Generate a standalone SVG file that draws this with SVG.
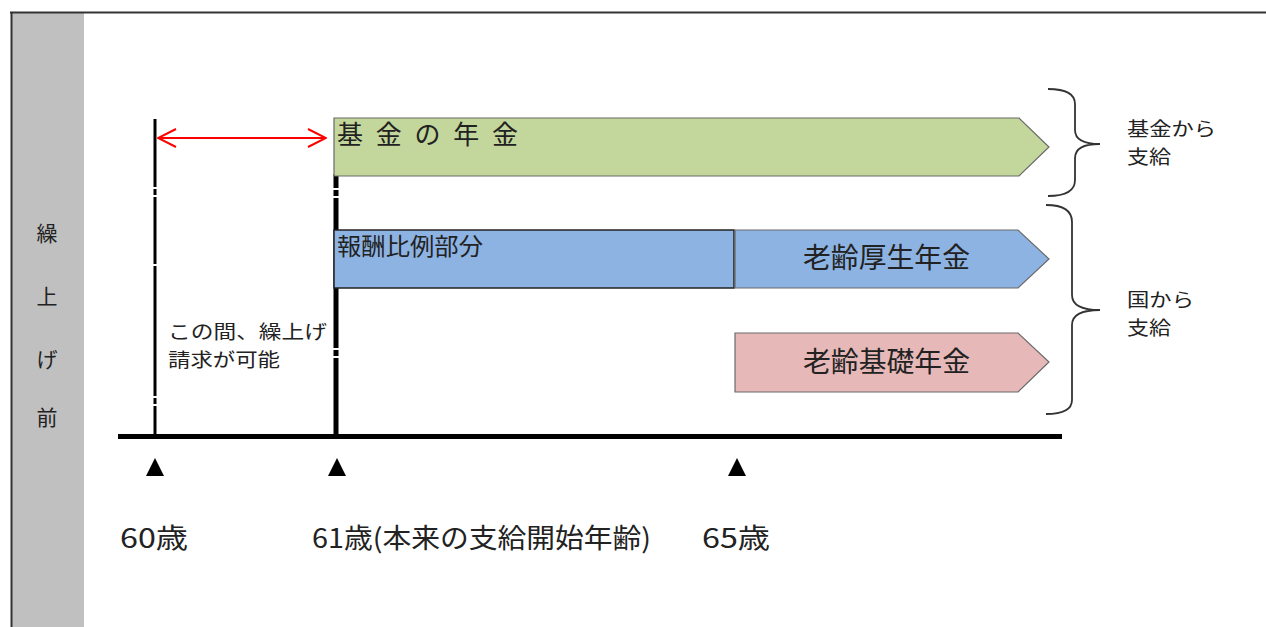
<svg xmlns="http://www.w3.org/2000/svg" width="1266" height="627" viewBox="0 0 1266 627">
<style>
.t{font-family:"Noto Sans CJK JP","Liberation Sans",sans-serif;fill:#222}
.big{font-size:26px}
.lab{font-size:28px}
.mid{font-size:21px}
.sm{font-size:19px}
.box{stroke:#6a6a6a;stroke-width:1.2}
.br{fill:none;stroke:#333;stroke-width:1.8}
</style>
<defs>
<marker id="ah" viewBox="0 0 20 20" refX="19" refY="10" markerWidth="20" markerHeight="20" markerUnits="userSpaceOnUse" orient="auto-start-reverse">
<path d="M1,1 L19,10 L1,19" fill="none" stroke="#f00" stroke-width="2"/>
</marker>
</defs>
<rect width="1266" height="627" fill="#fff"/>
<g id="frame">
<rect x="12" y="12" width="72" height="620" fill="#c0c0c0"/>
<line x1="10" y1="12.5" x2="1266" y2="12.5" stroke="#333" stroke-width="2"/>
<line x1="11.5" y1="12" x2="11.5" y2="627" stroke="#333" stroke-width="2"/>
<text class="t mid" x="47" y="241" text-anchor="middle">繰</text>
<text class="t mid" x="47" y="304" text-anchor="middle">上</text>
<text class="t mid" x="47" y="367" text-anchor="middle">げ</text>
<text class="t mid" x="47" y="425" text-anchor="middle">前</text>
</g>
<g id="connectors">
<line x1="155" y1="119" x2="155" y2="436" stroke="#000" stroke-width="3" stroke-dasharray="68,2,6,2,67,2,130,2,6,2,60"/>
<line x1="336" y1="174" x2="336" y2="436" stroke="#000" stroke-width="5" stroke-dasharray="14,2,6,2,150,2,6,2,100"/>
<line x1="158" y1="138" x2="326" y2="138" stroke="#f00" stroke-width="2" marker-start="url(#ah)" marker-end="url(#ah)"/>
<line x1="118" y1="436.5" x2="1062" y2="436.5" stroke="#000" stroke-width="5"/>
</g>
<g id="kikin">
<polygon class="box" points="334,118 1019,118 1049,147 1019,176 334,176" fill="#c3d69b"/>
<text class="t big" x="337" y="144" textLength="181" lengthAdjust="spacing">基金の年金</text>
</g>
<g id="houshu">
<rect x="334" y="230" width="400" height="58" fill="#8db3e2" stroke="#222" stroke-width="1.5"/>
<text class="t" font-size="24" x="337" y="255" textLength="146" lengthAdjust="spacingAndGlyphs">報酬比例部分</text>
</g>
<g id="kousei">
<polygon class="box" points="735,230 1018,230 1049,259 1018,288 735,288" fill="#8db3e2"/>
<text class="t lab" x="803" y="268" textLength="167" lengthAdjust="spacingAndGlyphs">老齢厚生年金</text>
</g>
<g id="kiso">
<polygon class="box" points="735,333 1018,333 1049,362 1018,392 735,392" fill="#e6b9b8"/>
<text class="t lab" x="803" y="372" textLength="167" lengthAdjust="spacingAndGlyphs">老齢基礎年金</text>
</g>
<g id="note">
<text class="t sm" fill="#333"><tspan x="168" y="339" textLength="159" lengthAdjust="spacingAndGlyphs">この間、繰上げ</tspan><tspan x="168" y="367" textLength="112" lengthAdjust="spacingAndGlyphs">請求が可能</tspan></text>
</g>
<g id="brace1">
<path class="br" d="M1048,89 Q1075,89 1075,104 L1075,130 Q1075,144 1100,144 Q1075,144 1075,158 L1075,180 Q1075,196 1048,196"/>
<text class="t sm"><tspan x="1127" y="136" textLength="89" lengthAdjust="spacingAndGlyphs">基金から</tspan><tspan x="1127" y="164" textLength="44" lengthAdjust="spacingAndGlyphs">支給</tspan></text>
</g>
<g id="brace2">
<path class="br" d="M1046,205 Q1072,205 1072,222 L1072,295 Q1072,310 1100,310 Q1072,310 1072,325 L1072,400 Q1072,414 1046,414"/>
<text class="t sm"><tspan x="1127" y="307" textLength="67" lengthAdjust="spacingAndGlyphs">国から</tspan><tspan x="1127" y="335" textLength="44" lengthAdjust="spacingAndGlyphs">支給</tspan></text>
</g>
<g id="ticks">
<polygon points="146,476 164,476 155,458" fill="#000"/>
<polygon points="328,476 346,476 337,458" fill="#000"/>
<polygon points="728,476 746,476 737,458" fill="#000"/>
<text class="t" font-size="27" x="120" y="548" fill="#333" textLength="68" lengthAdjust="spacingAndGlyphs">60歳</text>
<text class="t" font-size="27" x="312" y="548" fill="#333" textLength="339" lengthAdjust="spacingAndGlyphs">61歳(本来の支給開始年齢)</text>
<text class="t" font-size="27" x="702" y="548" fill="#333" textLength="68" lengthAdjust="spacingAndGlyphs">65歳</text>
</g>
</svg>
